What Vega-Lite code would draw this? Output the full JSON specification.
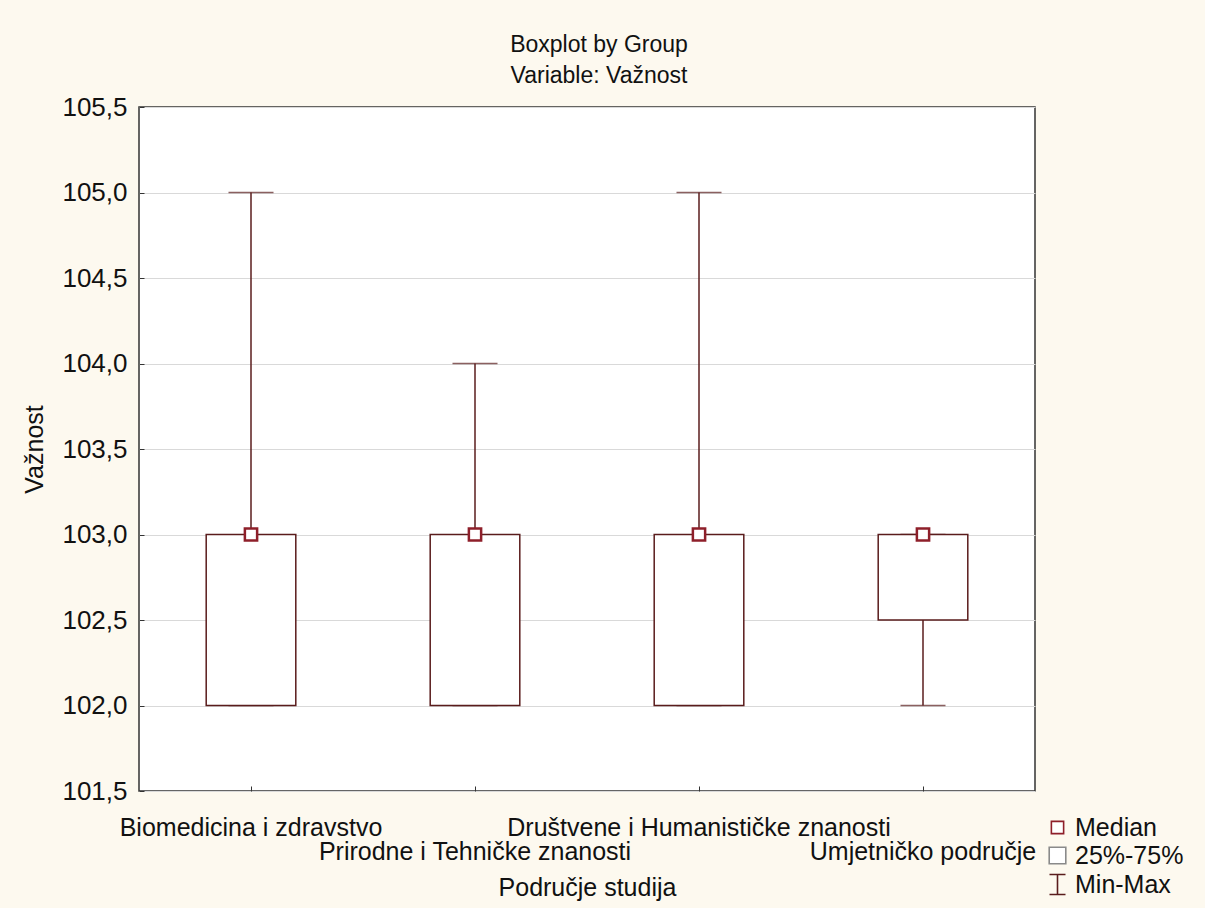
{
  "$schema": "https://vega.github.io/schema/vega-lite/v6.json",
  "width": 896,
  "height": 684,
  "autosize": {"type": "none"},
  "padding": {"left": 139, "top": 107, "right": 170, "bottom": 117},
  "background": "#FDF9EF",
  "config": {
    "font": "Liberation Sans",
    "view": {"fill": "white", "stroke": "#333333", "strokeWidth": 1.5},
    "axis": {"labelFont": "Liberation Sans", "titleFont": "Liberation Sans", "labelColor": "#111", "titleColor": "#111", "titleFontWeight": "normal"}
  },
  "title": {
    "text": ["Boxplot by Group", "Variable: Važnost"],
    "fontSize": 23,
    "fontWeight": "normal",
    "font": "Liberation Sans",
    "color": "#111",
    "lineHeight": 31,
    "anchor": "middle",
    "dx": 12,
    "offset": 6
  },
  "data": {
    "values": [
      {"group": "Biomedicina i zdravstvo", "min": 102, "q1": 102, "median": 103, "q3": 103, "max": 105, "stat": "Median"},
      {"group": "Prirodne i Tehničke znanosti", "min": 102, "q1": 102, "median": 103, "q3": 103, "max": 104, "stat": "Median"},
      {"group": "Društvene i Humanističke znanosti", "min": 102, "q1": 102, "median": 103, "q3": 103, "max": 105, "stat": "Median"},
      {"group": "Umjetničko područje", "min": 102, "q1": 102.5, "median": 103, "q3": 103, "max": 103, "stat": "Median"}
    ]
  },
  "encoding": {
    "x": {
      "field": "group",
      "type": "nominal",
      "sort": null,
      "scale": {"paddingInner": 0, "paddingOuter": 0},
      "axis": {
        "title": "Područje studija",
        "titleFontSize": 25,
        "titlePadding": 11,
        "labelFontSize": 25,
        "labelAngle": 0,
        "labelOverlap": false,
        "labelBound": false,
        "labelLimit": 0,
        "labelPadding": {"condition": {"test": "indexof(['Prirodne i Tehničke znanosti','Umjetničko područje'], datum.value) >= 0", "value": 53}, "value": 29},
        "tickSize": -5,
        "tickColor": "#333",
        "domain": false,
        "grid": false
      }
    }
  },
  "layer": [
    {
      "mark": {"type": "rule", "stroke": "#5a1c1c", "strokeWidth": 1.5},
      "encoding": {
        "y": {
          "field": "min",
          "type": "quantitative",
          "scale": {"domain": [101.5, 105.5], "nice": false, "zero": false},
          "axis": {
            "title": "Važnost",
            "titleFontSize": 25,
            "titlePadding": 14,
            "labelFontSize": 26,
            "labelPadding": 17,
            "values": [101.5, 102, 102.5, 103, 103.5, 104, 104.5, 105, 105.5],
            "labelExpr": "replace(format(datum.value, '.1f'), '.', ',')",
            "tickSize": -5,
            "tickColor": "#333",
            "domain": false,
            "grid": true,
            "gridColor": "#d9d9d9",
            "gridWidth": 1
          }
        },
        "y2": {"field": "max"}
      }
    },
    {
      "mark": {"type": "tick", "orient": "horizontal", "size": 45, "thickness": 1.5, "color": "#5a1c1c"},
      "encoding": {"y": {"field": "max", "type": "quantitative"}}
    },
    {
      "mark": {"type": "tick", "orient": "horizontal", "size": 45, "thickness": 1.5, "color": "#5a1c1c"},
      "encoding": {"y": {"field": "min", "type": "quantitative"}}
    },
    {
      "mark": {"type": "bar", "fill": "white", "stroke": "#5a1c1c", "strokeWidth": 1.5, "width": {"band": 0.4}},
      "encoding": {"y": {"field": "q1", "type": "quantitative"}, "y2": {"field": "q3"}}
    },
    {
      "mark": {"type": "point", "filled": false, "fill": "white", "fillOpacity": 1, "strokeWidth": 2.5, "opacity": 1},
      "encoding": {
        "y": {"field": "median", "type": "quantitative"},
        "shape": {
          "field": "stat",
          "type": "nominal",
          "scale": {"domain": ["Median", "25%-75%", "Min-Max"], "range": ["square", "square", "M-0.8,-1H0.8M0,-1V1M-0.8,1H0.8"]},
          "legend": {
            "title": null,
            "orient": "none",
            "legendX": 906,
            "legendY": 708,
            "labelFontSize": 25,
            "labelFont": "Liberation Sans",
            "labelColor": "#111",
            "rowPadding": 2,
            "symbolStrokeWidth": 1.6,
            "labelOffset": 5
          }
        },
        "stroke": {
          "field": "stat",
          "type": "nominal",
          "scale": {"domain": ["Median", "25%-75%", "Min-Max"], "range": ["#8e1f2a", "#8a8a8a", "#5a1c1c"]},
          "legend": {"title": null}
        },
        "size": {
          "field": "stat",
          "type": "nominal",
          "scale": {"domain": ["Median", "25%-75%", "Min-Max"], "range": [150, 400, 484]},
          "legend": {"title": null}
        }
      }
    }
  ]
}
